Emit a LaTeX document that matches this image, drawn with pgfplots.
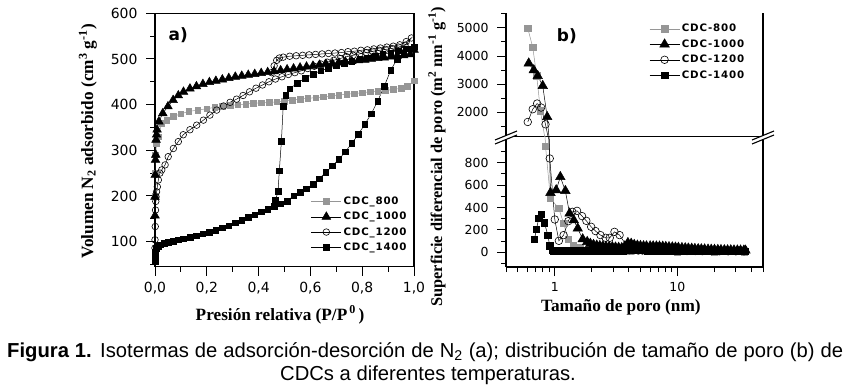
\documentclass[border=0pt]{standalone}
\usepackage{pgfplots}
\pgfplotsset{compat=1.18}
\usepackage{fontspec}
\setmainfont{Liberation Serif}
\newfontfamily\tickfont{DejaVu Sans}
\newfontfamily\legfont[LetterSpace=8]{DejaVu Sans}
\newfontfamily\capfont{Liberation Sans}
\definecolor{gr}{RGB}{150,150,150}
\pgfplotsset{
  base/.style={scale only axis, axis line style={line width=1.3bp},
    every tick/.style={black, line width=1bp}, major tick length=9bp, minor tick length=5bp,
    tick align=outside, tick pos=left, clip=true,
    /pgf/number format/assume math mode=true, /pgf/number format/1000 sep={},
    label style={font=\bfseries\fontsize{17.3}{19}\selectfont},
    yticklabel style={xshift=-5bp},
    xticklabel style={yshift=-3bp},
    legend cell align=left,
    legend image code/.code={\draw[mark repeat=2,mark phase=2,##1] plot coordinates {(0bp,0bp) (15bp,0bp) (30bp,0bp)};}},
  s800/.style={color=gr, line width=0.5bp, mark=square*, mark size=#1, mark options={solid, fill=gr, draw=gr}},
  s1000/.style={color=black, line width=0.5bp, mark=triangle*, mark size=#1, mark options={solid, fill=black}},
  s1200/.style={color=black, line width=0.5bp, mark=o, mark size=#1, mark options={solid, line width=0.6bp}},
  s1400/.style={color=black, line width=0.5bp, mark=square*, mark size=#1, mark options={solid, fill=black}},
}
\begin{document}
\begin{tikzpicture}
\useasboundingbox (0,0) rectangle (853bp,-389bp);
% ---------------- panel a ----------------
\begin{axis}[base, at={(155bp,-13.3bp)}, anchor=north west, width=259bp, height=253.4bp,
  xmin=0, xmax=1, ymin=45, ymax=600,
  xtick={0,0.2,0.4,0.6,0.8,1}, xticklabels={{0,0},{0,2},{0,4},{0,6},{0,8},{1,0}},
  minor xtick={0.1,0.3,0.5,0.7,0.9},
  ytick={100,200,300,400,500,600}, minor ytick={50,150,250,350,450,550},
  tick label style={font=\tickfont\fontsize{14}{16}\selectfont},
  xlabel={Presión relativa (P/P\textsuperscript{\,0}\,)},
  ylabel={Volumen N\textsubscript{2} adsorbido (cm\textsuperscript{3} g\textsuperscript{-1})},
  xlabel style={at={(axis description cs:0.483,-0.19)}, anchor=center},
  ylabel style={at={(axis description cs:-0.259,0.494)}, anchor=center},
  legend style={at={(axis description cs:0.598,0.288)}, anchor=north west, draw=none, fill=none,
    font=\legfont\bfseries\fontsize{10.3}{12}\selectfont, row sep=2.2bp, inner sep=1bp},
]
\addplot[s800=2.8bp] coordinates {(0,200)(0,250)(0.002,290)(0.005,315)(0.013,330)(0.026,359)(0.045,366)(0.071,374)(0.1,380)(0.13,385)(0.165,388)(0.2,391)(0.23,394)(0.26,396)(0.29,398)(0.32,400)(0.35,401)(0.38,403)(0.41,404)(0.44,405)(0.47,406)(0.5,408)(0.53,410)(0.56,412)(0.59,414)(0.62,415)(0.65,417)(0.68,419)(0.71,421)(0.74,423)(0.77,424)(0.8,426)(0.83,428)(0.86,429)(0.89,431)(0.92,433)(0.95,436)(0.975,440)(1.0,452)};
\addlegendentry{CDC\_800}
\addplot[s1000=5bp] coordinates {(0,157)(0,198)(0.001,246)(0.002,279)(0.003,290)(0.004,323)(0.006,334)(0.008,345)(0.015,363)(0.03,381)(0.05,396)(0.07,410)(0.09,420)(0.11,428)(0.135,435)(0.16,440)(0.185,445)(0.21,449)(0.235,452)(0.26,455)(0.285,458)(0.31,461)(0.335,463)(0.36,465)(0.385,467)(0.41,469)(0.435,471)(0.46,473)(0.485,475)(0.51,477)(0.535,479)(0.56,481)(0.585,483)(0.61,485)(0.635,487)(0.66,489)(0.685,490)(0.71,492)(0.735,494)(0.76,495)(0.785,497)(0.81,498)(0.835,500)(0.86,502)(0.885,503)(0.91,505)(0.935,507)(0.96,508)(0.985,510)(1.0,520)};
\addlegendentry{CDC\_1000}
\addplot[s1200=3.3bp] coordinates {(0,86)(0,104)(0.001,133)(0.002,169)(0.003,188)(0.004,198)(0.006,209)(0.009,220)(0.013,235)(0.019,250)(0.026,257)(0.039,268)(0.051,286)(0.071,304)(0.09,319)(0.109,334)(0.135,345)(0.161,355)(0.187,366)(0.212,377)(0.238,388)(0.265,397)(0.29,405)(0.315,412)(0.34,420)(0.365,428)(0.39,436)(0.415,443)(0.44,450)(0.465,456)(0.49,461)(0.515,466)(0.54,470)(0.565,474)(0.59,479)(0.615,484)(0.64,489)(0.665,493)(0.69,497)(0.715,501)(0.74,505)(0.765,508)(0.79,511)(0.815,514)(0.84,517)(0.865,519)(0.89,521)(0.915,523)(0.94,526)(0.965,530)(0.99,546)(0.97,538)(0.945,531)(0.92,528)(0.895,526)(0.87,524)(0.845,522)(0.82,520)(0.795,519)(0.77,517)(0.745,516)(0.72,514)(0.695,513)(0.67,512)(0.645,511)(0.62,510)(0.595,509)(0.57,508)(0.545,507)(0.52,506)(0.495,504)(0.48,502)(0.47,497)(0.46,485)(0.45,470)};
\addlegendentry{CDC\_1200}
\addplot[s1400=2.8bp] coordinates {(0,56)(0.001,67)(0.002,78)(0.005,86)(0.012,90)(0.02,93)(0.035,96)(0.05,98)(0.07,101)(0.09,104)(0.11,106)(0.135,109)(0.16,113)(0.185,117)(0.21,121)(0.235,125)(0.26,130)(0.285,135)(0.31,141)(0.335,147)(0.36,153)(0.385,159)(0.41,165)(0.435,171)(0.46,177)(0.485,183)(0.51,189)(0.535,200)(0.56,208)(0.585,216)(0.61,226)(0.635,238)(0.66,252)(0.685,266)(0.71,280)(0.735,297)(0.76,315)(0.785,335)(0.81,357)(0.835,380)(0.86,408)(0.885,440)(0.91,475)(0.935,500)(0.96,512)(0.985,522)(1.0,527)(0.97,522)(0.94,518)(0.91,514)(0.88,510)(0.85,507)(0.82,503)(0.79,499)(0.76,495)(0.73,490)(0.7,485)(0.67,480)(0.64,474)(0.61,467)(0.58,458)(0.55,447)(0.52,435)(0.505,420)(0.495,396)(0.488,320)(0.48,255)(0.475,210)(0.465,190)};
\addlegendentry{CDC\_1400}
\node[font=\tickfont\bfseries\fontsize{17}{19}\selectfont] at (axis description cs:0.09,0.913) {a)};
\end{axis}
% ---------------- panel b upper ----------------
\begin{axis}[base, at={(506bp,-13bp)}, anchor=north west, width=257bp, height=123.7bp,
  xmode=log, xmin=0.4, xmax=50, ymin=1130, ymax=5530,
  axis x line*=top, xtick=\empty,
  ytick={2000,3000,4000,5000}, minor ytick={1500,2500,3500,4500,5500},
  tick label style={font=\tickfont\fontsize{12.5}{15}\selectfont},
  legend style={at={(axis description cs:0.553,0.935)}, anchor=north west, draw=none, fill=none,
    font=\legfont\bfseries\fontsize{10.3}{12}\selectfont, row sep=2.4bp, inner sep=1bp},
]
\addplot[s800=3.2bp] coordinates {(0.602,4990)(0.661,4310)(0.712,3300)(0.764,2050)(0.84,947)(0.922,480)(1.08,391)(1.18,258)(1.29,115)(1.41,65)(1.62,40)(1.9,25)(2.3,18)(3,12)(4,10)(6,8)(10,6)(20,4)(35,3)};
\addlegendentry{CDC-800}
\addplot[s1000=5.5bp] coordinates {(0.613,3740)(0.674,3500)(0.726,3290)(0.798,2940)(0.867,1833)(0.922,531)(1.027,555)(1.11,672)(1.22,548)(1.32,347)(1.43,287)(1.54,213)(1.69,118)(1.84,94)(1.95,78)(2.07,68)(2.2,62)(2.33,58)(2.47,55)(2.62,52)(2.78,50)(2.95,48)(3.13,45)(3.32,42)(3.52,40)(3.73,55)(3.95,85)(4.2,78)(4.45,68)(4.72,62)(5.0,58)(5.3,56)(5.6,55)(6.0,55)(6.35,55)(6.75,54)(7.15,53)(7.6,52)(8.05,50)(8.55,48)(9.1,46)(9.65,44)(10.2,42)(10.9,40)(11.6,38)(12.3,36)(13.1,34)(13.9,32)(14.8,30)(15.7,29)(16.7,28)(17.8,26)(18.9,25)(20.1,24)(21.4,23)(22.7,22)(24.2,21)(25.7,20)(27.3,20)(29,19)(30.9,19)(32.8,18)(34.9,18)(36,17)};
\addlegendentry{CDC-1000}
\addplot[s1200=3.8bp] coordinates {(0.602,1654)(0.661,2107)(0.718,2310)(0.774,2167)(0.84,1571)(0.91,836)(1.0,293)(1.08,103)(1.18,154)(1.29,278)(1.39,361)(1.52,370)(1.67,323)(1.81,281)(1.98,228)(2.15,190)(2.36,154)(2.6,130)(2.81,130)(3.07,183)(3.38,154)(4.07,20)(4.4,18)(4.8,17)(5.2,17)(5.7,16)(6.2,16)(6.8,15)(7.4,15)(8.1,14)(8.8,14)(9.6,13)(10.5,13)(12,12)(14,12)(16,11)(19,11)(22,10)(26,10)(30,10)(35,10)};
\addlegendentry{CDC-1200}
\addplot[s1400=3.2bp] coordinates {(0.683,118)(0.709,207)(0.74,302)(0.774,338)(0.824,263)(0.877,154)(0.91,59)(0.95,20)(0.98,15)(1.02,15)(1.06,15)(1.1,15)(1.14,15)(1.18,15)(1.23,15)(1.28,15)(1.33,15)(1.38,15)(1.44,15)(1.5,15)(1.56,15)(1.62,15)(1.69,15)(1.76,15)(1.83,15)(1.9,15)(1.98,15)(2.06,15)(2.14,15)(2.23,15)(2.32,15)(2.41,15)(2.51,15)(2.61,15)(2.72,15)(2.83,15)(2.94,15)(3.06,15)(3.18,15)(3.31,15)(3.44,15)(3.58,16)(3.72,18)(3.9,25)(4.1,22)(4.4,20)(4.8,18)(5.2,17)(5.7,16)(6.2,16)(6.8,15)(7.4,15)(8.1,14)(8.8,14)(9.6,13)(10.5,13)(11.5,13)(12.6,12)(13.8,12)(15,12)(16.5,12)(18,12)(19.7,12)(21.5,12)(23.5,12)(25.7,12)(28,12)(30.6,12)(33.5,12)(36,12)};
\addlegendentry{CDC-1400}
\node[font=\tickfont\bfseries\fontsize{17}{19}\selectfont] at (axis description cs:0.237,0.81) {b)};
\end{axis}
% ---------------- panel b lower ----------------
\begin{axis}[base, at={(506bp,-136.7bp)}, anchor=north west, width=257bp, height=130.3bp,
  xmode=log, xmin=0.4, xmax=50, ymin=-130, ymax=1030,
  axis x line*=bottom,
  xtick={1,10}, xticklabels={1,10},
  minor xtick={0.4,0.5,0.6,0.7,0.8,0.9,2,3,4,5,6,7,8,9,20,30,40,50},
  ytick={0,200,400,600,800}, minor ytick={-100,100,300,500,700,900},
  tick label style={font=\tickfont\fontsize{12.5}{15}\selectfont},
  xlabel={Tamaño de poro (nm)},
  ylabel={Superficie diferencial de poro (m\textsuperscript{2} nm\textsuperscript{-1} g\textsuperscript{-1})},
  xlabel style={at={(axis description cs:0.447,-0.31)}, anchor=center},
  ylabel style={at={(axis description cs:-0.268,0.846)}, anchor=center, font=\bfseries\fontsize{16.4}{18}\selectfont},
]
\addplot[s800=3.2bp] coordinates {(0.602,4990)(0.661,4310)(0.712,3300)(0.764,2050)(0.84,947)(0.922,480)(1.08,391)(1.18,258)(1.29,115)(1.41,65)(1.62,40)(1.9,25)(2.3,18)(3,12)(4,10)(6,8)(10,6)(20,4)(35,3)};
\addplot[s1000=5.5bp] coordinates {(0.613,3740)(0.674,3500)(0.726,3290)(0.798,2940)(0.867,1833)(0.922,531)(1.027,555)(1.11,672)(1.22,548)(1.32,347)(1.43,287)(1.54,213)(1.69,118)(1.84,94)(1.95,78)(2.07,68)(2.2,62)(2.33,58)(2.47,55)(2.62,52)(2.78,50)(2.95,48)(3.13,45)(3.32,42)(3.52,40)(3.73,55)(3.95,85)(4.2,78)(4.45,68)(4.72,62)(5.0,58)(5.3,56)(5.6,55)(6.0,55)(6.35,55)(6.75,54)(7.15,53)(7.6,52)(8.05,50)(8.55,48)(9.1,46)(9.65,44)(10.2,42)(10.9,40)(11.6,38)(12.3,36)(13.1,34)(13.9,32)(14.8,30)(15.7,29)(16.7,28)(17.8,26)(18.9,25)(20.1,24)(21.4,23)(22.7,22)(24.2,21)(25.7,20)(27.3,20)(29,19)(30.9,19)(32.8,18)(34.9,18)(36,17)};
\addplot[s1200=3.8bp] coordinates {(0.602,1654)(0.661,2107)(0.718,2310)(0.774,2167)(0.84,1571)(0.91,836)(1.0,293)(1.08,103)(1.18,154)(1.29,278)(1.39,361)(1.52,370)(1.67,323)(1.81,281)(1.98,228)(2.15,190)(2.36,154)(2.6,130)(2.81,130)(3.07,183)(3.38,154)(4.07,20)(4.4,18)(4.8,17)(5.2,17)(5.7,16)(6.2,16)(6.8,15)(7.4,15)(8.1,14)(8.8,14)(9.6,13)(10.5,13)(12,12)(14,12)(16,11)(19,11)(22,10)(26,10)(30,10)(35,10)};
\addplot[s1400=3.2bp] coordinates {(0.683,118)(0.709,207)(0.74,302)(0.774,338)(0.824,263)(0.877,154)(0.91,59)(0.95,20)(0.98,15)(1.02,15)(1.06,15)(1.1,15)(1.14,15)(1.18,15)(1.23,15)(1.28,15)(1.33,15)(1.38,15)(1.44,15)(1.5,15)(1.56,15)(1.62,15)(1.69,15)(1.76,15)(1.83,15)(1.9,15)(1.98,15)(2.06,15)(2.14,15)(2.23,15)(2.32,15)(2.41,15)(2.51,15)(2.61,15)(2.72,15)(2.83,15)(2.94,15)(3.06,15)(3.18,15)(3.31,15)(3.44,15)(3.58,16)(3.72,18)(3.9,25)(4.1,22)(4.4,20)(4.8,18)(5.2,17)(5.7,16)(6.2,16)(6.8,15)(7.4,15)(8.1,14)(8.8,14)(9.6,13)(10.5,13)(11.5,13)(12.6,12)(13.8,12)(15,12)(16.5,12)(18,12)(19.7,12)(21.5,12)(23.5,12)(25.7,12)(28,12)(30.6,12)(33.5,12)(36,12)};
\end{axis}
% axis break marks
\fill[white] (495bp,-140bp) -- (517bp,-131bp) -- (517bp,-135bp) -- (495bp,-144bp) -- cycle;
\draw[line width=1.1bp] (495bp,-140bp) -- (517bp,-131bp) (495bp,-144bp) -- (517bp,-135bp);
\fill[white] (752bp,-140bp) -- (774bp,-131bp) -- (774bp,-135bp) -- (752bp,-144bp) -- cycle;
\draw[line width=1.1bp] (752bp,-140bp) -- (774bp,-131bp) (752bp,-144bp) -- (774bp,-135bp);
% caption
\node[anchor=base west, font=\capfont\fontsize{20.3}{23}\selectfont, inner sep=0] at (7bp,-357bp)
  {\makebox[836bp][s]{\textbf{Figura 1.} Isotermas de adsorción-desorción de N\textsubscript{2} (a); distribución de tamaño de poro (b) de}};
\node[anchor=base, font=\capfont\fontsize{20.3}{23}\selectfont, inner sep=0] at (428bp,-380bp)
  {CDCs a diferentes temperaturas.};
\end{tikzpicture}
\end{document}
